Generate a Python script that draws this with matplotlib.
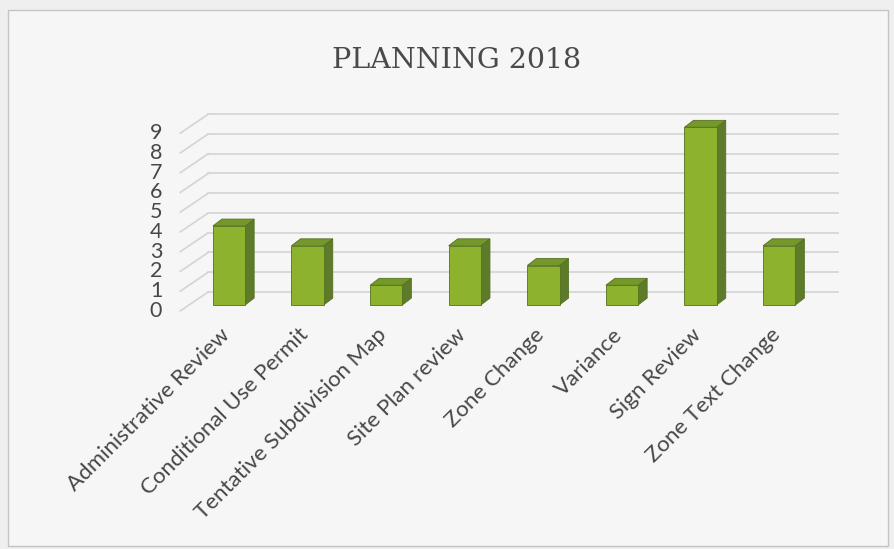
import matplotlib.pyplot as plt
from matplotlib.patches import Polygon, Rectangle

categories = ["Administrative Review", "Conditional Use Permit",
              "Tentative Subdivision Map", "Site Plan review", "Zone Change",
              "Variance", "Sign Review", "Zone Text Change"]
values = [4, 3, 1, 3, 2, 1, 9, 3]
yticks = list(range(0, 10))

# 3d look parameters (data units)
bar_w = 0.41
bar_dx, bar_dy = 0.115, 0.35     # bar depth offset
wall_x0 = -0.62                  # front-left corner of floor
wall_dx, wall_dy = 0.356, 0.96   # wall depth offset
front_off = -0.3                 # front edge vs bar base
x_right = 7.75

front_col = "#8db32e"
side_col = "#5e7b2b"
top_col = "#74992a"
edge_col = "#55701f"
grid_col = "#d4d4d4"
txt_col = "#474747"

fig = plt.figure(figsize=(8.94, 5.49), dpi=100, facecolor="#efefef")
ax = fig.add_axes([0, 0, 1, 1])
ax.set_xlim(-229 / 78.6, (894 - 229) / 78.6)
ax.set_ylim((305 - 549) / 19.75, 305 / 19.75)
ax.axis("off")

# chart area
ax.add_patch(Rectangle((-229 / 78.6 + 0.1, (305 - 546) / 19.75),
                       880 / 78.6, 536 / 19.75, facecolor="#f6f6f6",
                       edgecolor="#c4c4c4", lw=1, zorder=0))

# back wall gridlines and side wall diagonals
for v in yticks:
    ax.plot([wall_x0 + wall_dx, x_right], [v + front_off + wall_dy] * 2,
            color=grid_col, lw=1.2, zorder=1)
    ax.plot([wall_x0, wall_x0 + wall_dx],
            [v + front_off, v + front_off + wall_dy],
            color=grid_col, lw=1.2, zorder=1)
    ax.text(-0.85, v + front_off, str(v), ha="right", va="center",
            fontsize=15.5, color=txt_col, family="Lato")

# bars
for i, v in enumerate(values):
    x0, x1 = i - bar_w / 2, i + bar_w / 2
    ax.add_patch(Polygon([(x1, 0), (x1 + bar_dx, bar_dy),
                          (x1 + bar_dx, v + bar_dy), (x1, v)],
                         facecolor=side_col, edgecolor=edge_col, lw=0.6, zorder=3))
    ax.add_patch(Polygon([(x0, v), (x1, v), (x1 + bar_dx, v + bar_dy),
                          (x0 + bar_dx, v + bar_dy)],
                         facecolor=top_col, edgecolor=edge_col, lw=0.6, zorder=3))
    ax.add_patch(Rectangle((x0, 0), bar_w, v, facecolor=front_col,
                           edgecolor=edge_col, lw=0.6, zorder=4))
    ax.text(i - 0.12, -1.0, categories[i], rotation=45, rotation_mode="anchor",
            ha="right", va="top", fontsize=16, color=txt_col, family="Lato")

ax.text(2.9, 12.4, "PLANNING 2018", ha="center", va="center",
        fontsize=20.5, color="#4a4a4a", family="DejaVu Serif")

fig.savefig("out.png", dpi=100, facecolor=fig.get_facecolor())
